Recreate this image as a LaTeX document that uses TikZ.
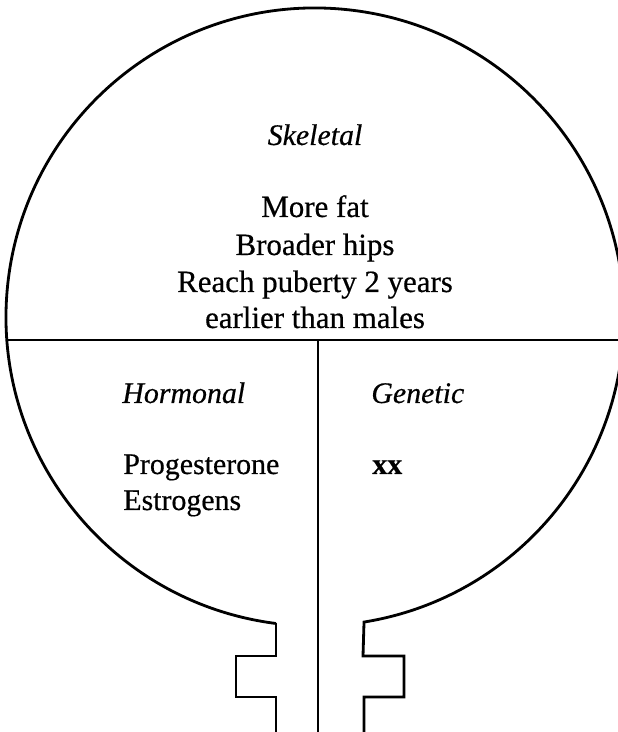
\documentclass[tikz,border=0pt]{standalone}
\usepackage{fontspec}
\setmainfont{Liberation Serif}[FakeBold=0.5]
\begin{document}
\begin{tikzpicture}[
    outline/.style={draw=black, line width=1.6pt, line join=miter},
    divider/.style={draw=black, line width=1.2pt},
    heading/.style={font=\fontsize{17}{21}\selectfont\itshape, inner sep=0pt},
    body/.style={font=\fontsize{17}{21}\selectfont, inner sep=0pt},
    bodywide/.style={font=\fontsize{17.6}{21}\selectfont, inner sep=0pt},
    thicktext/.style={font=\fontsize{17}{21}\selectfont\bfseries, inner sep=0pt}
]
\useasboundingbox (0, 0) rectangle (12.36, 14.64);
\clip (0, 0) rectangle (12.36, 14.64);

% Corner points of the neck and the dividers
\coordinate (neckleft) at (5.52, 2.17);
\coordinate (divleft) at (0.14, 7.84);
\coordinate (divright) at (12.36, 7.84);
\coordinate (divtop) at (6.36, 7.84);
\coordinate (divbottom) at (6.36, 0);

% Outline
\draw[outline] (neckleft) -- (5.52, 1.52) -- (4.72, 1.52) -- (4.72, 0.70) -- (5.52, 0.70) -- (5.52, 0);
\draw[outline] (neckleft) arc[start angle=262.75, end angle=-80.87, radius=6.18]
    -- (7.26, 1.52) -- (8.08, 1.52) -- (8.08, 0.70) -- (7.28, 0.70) -- (7.28, 0);

% Dividers
\draw[divider] (divleft) -- (divright);
\draw[divider] (divtop) -- (divbottom);

% Skeletal
\node[heading, anchor=base] (skeletal) at (6.3, 11.74) {Skeletal};
\node[bodywide, anchor=base] (morefat) at (6.3, 10.3) {More fat};
\node[bodywide, anchor=base] (hips) at (6.3, 9.54) {Broader hips};
\node[bodywide, anchor=base] (puberty) at (6.3, 8.8) {Reach puberty 2 years};
\node[bodywide, anchor=base] (males) at (6.3, 8.08) {earlier than males};

% Hormonal
\node[heading, anchor=base west] (hormonal) at (2.44, 6.58) {Hormonal};
\node[body, anchor=base west] (progesterone) at (2.46, 5.16) {Progesterone};
\node[body, anchor=base west] (estrogens) at (2.46, 4.44) {Estrogens};

% Genetic
\node[heading, anchor=base west] (genetic) at (7.42, 6.58) {Genetic};
\node[thicktext, anchor=base west] (xx) at (7.44, 5.16) {xx};

\end{tikzpicture}
\end{document}
